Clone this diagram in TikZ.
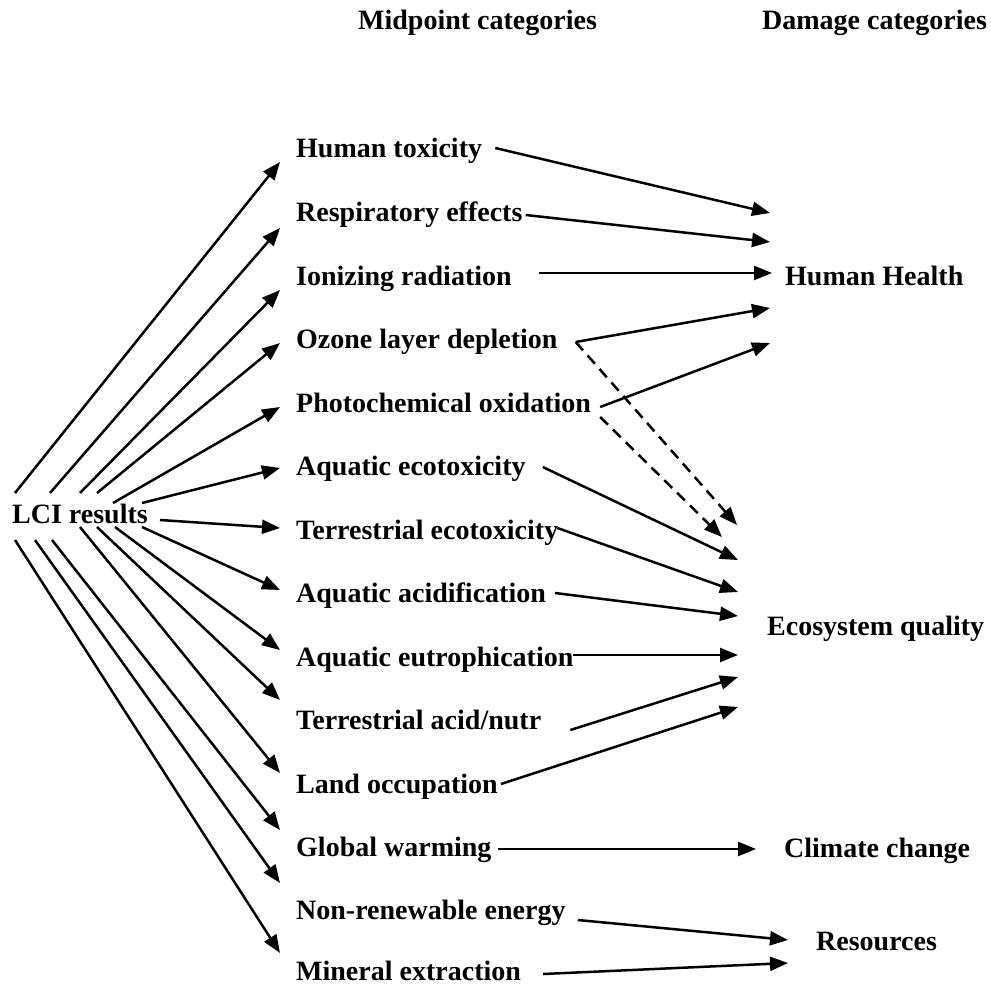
\documentclass[tikz,border=0pt]{standalone}
\usepackage{fontspec}
\setmainfont{Liberation Serif}
\usetikzlibrary{arrows.meta,positioning}
\tikzset{
  cat/.style={anchor=base west, inner sep=0pt, font=\fontsize{28}{30}\selectfont\bfseries},
  link/.style={->, line width=2.5pt},
  sidelink/.style={->, line width=2.5pt, dash pattern=on 11pt off 7pt}
}

\begin{document}
\begin{tikzpicture}[
                    >={Triangle[length=18pt,width=14pt]},
                x=1pt, y=-1pt]

                \useasboundingbox (0,0) rectangle (991,987);

                \draw(358,30) node[cat] (midhead) {Midpoint categories};
                \draw(762,30) node[cat] (damhead) {Damage categories};

                \draw(12,523) node[cat] (lci) {LCI results};

                \draw(296,158) node[cat] (ht) {Human toxicity};
                \draw(296,221.5) node[cat] (re) {Respiratory effects};
                \draw(296,285) node[cat] (ir) {Ionizing radiation};
                \draw(296,348.5) node[cat] (ol) {Ozone layer depletion};
                \draw(296,412) node[cat] (po) {Photochemical oxidation};
                \draw(296,475.5) node[cat] (ae) {Aquatic ecotoxicity};
                \draw(296,539) node[cat] (te) {Terrestrial ecotoxicity};
                \draw(296,602.5) node[cat] (aa) {Aquatic acidification};
                \draw(296,666) node[cat] (au) {Aquatic eutrophication};
                \draw(296,729.5) node[cat] (ta) {Terrestrial acid/nutr};
                \draw(296,793) node[cat] (lo) {Land occupation};
                \draw(296,856.5) node[cat] (gw) {Global warming};
                \draw(296,919) node[cat] (nr) {Non-renewable energy};
                \draw(296,980) node[cat] (me) {Mineral extraction};

                \draw(785,285) node[cat] (hh) {Human Health};
                \draw(767,635) node[cat] (eq) {Ecosystem quality};
                \draw(784,857) node[cat] (cc) {Climate change};
                \draw(816,950) node[cat] (rs) {Resources};

                \coordinate (h1) at (770,213);
                \coordinate (h2) at (770,242);
                \coordinate (h3) at (772,273);
                \coordinate (h4) at (770,308);
                \coordinate (h5) at (770,343);
                \coordinate (d1) at (737,525);
                \coordinate (d2) at (722,537);
                \coordinate (e1) at (738,560);
                \coordinate (e2) at (738,592);
                \coordinate (e3) at (738,616);
                \coordinate (e4) at (738,655);
                \coordinate (e5) at (738,677);
                \coordinate (e6) at (738,707);
                \coordinate (c1) at (756,849);
                \coordinate (r1) at (788,940);
                \coordinate (r2) at (788,963);

                \draw[link] ([xshift=3,yshift=30]lci.base west) to ([xshift=-16,yshift=-4]ht.base west);
                \draw[link] ([xshift=38,yshift=30]lci.base west) to ([xshift=-16,yshift=-6.5]re.base west);
                \draw[link] ([xshift=68,yshift=30]lci.base west) to ([xshift=-16,yshift=-5]ir.base west);
                \draw[link] ([xshift=85,yshift=30]lci.base west) to ([xshift=-16,yshift=5.5]ol.base west);
                \draw[link] ([xshift=101,yshift=20]lci.base west) to ([xshift=-16,yshift=5]po.base west);
                \draw[link] ([xshift=130,yshift=20]lci.base west) to ([xshift=-16,yshift=7.5]ae.base west);
                \draw[link] ([xshift=148,yshift=3]lci.base west) to ([xshift=-16,yshift=11]te.base west);
                \draw[link] ([xshift=130,yshift=-4]lci.base west) to ([xshift=-16,yshift=12.5]aa.base west);
                \draw[link] ([xshift=103,yshift=-4]lci.base west) to ([xshift=-16,yshift=16]au.base west);
                \draw[link] ([xshift=85,yshift=-4]lci.base west) to ([xshift=-16,yshift=29.5]ta.base west);
                \draw[link] ([xshift=68,yshift=-4]lci.base west) to ([xshift=-16,yshift=20]lo.base west);
                \draw[link] ([xshift=40,yshift=-17]lci.base west) to ([xshift=-16,yshift=26.5]gw.base west);
                \draw[link] ([xshift=23,yshift=-17]lci.base west) to ([xshift=-16,yshift=36]nr.base west);
                \draw[link] ([xshift=3,yshift=-17]lci.base west) to ([xshift=-16,yshift=27]me.base west);

                \draw[link] ([xshift=13,yshift=10]ht.base east) to (h1);
                \draw[link] ([xshift=3,yshift=6.5]re.base east) to (h2);
                \draw[link] ([xshift=27,yshift=12]ir.base east) to (h3);
                \draw[link] ([xshift=18,yshift=6.5]ol.base east) to (h4);
                \draw[link] ([xshift=9,yshift=5]po.base east) to (h5);
                \draw[sidelink] ([xshift=18,yshift=6.5]ol.base east) to (d1);
                \draw[sidelink] ([xshift=9,yshift=-5]po.base east) to (d2);
                \draw[link] ([xshift=17,yshift=8.5]ae.base east) to (e1);
                \draw[link] ([xshift=-1,yshift=11]te.base east) to (e2);
                \draw[link] ([xshift=9,yshift=9.5]aa.base east) to (e3);
                \draw[link] ([xshift=-1,yshift=11]au.base east) to (e4);
                \draw[link] ([xshift=29,yshift=-0.5]ta.base east) to (e5);
                \draw[link] ([xshift=3,yshift=9]lo.base east) to (e6);
                \draw[link] ([xshift=6,yshift=7.5]gw.base east) to (c1);
                \draw[link] ([xshift=12,yshift=-1]nr.base east) to (r1);
                \draw[link] ([xshift=22,yshift=6]me.base east) to (r2);

            \end{tikzpicture}
\end{document}
